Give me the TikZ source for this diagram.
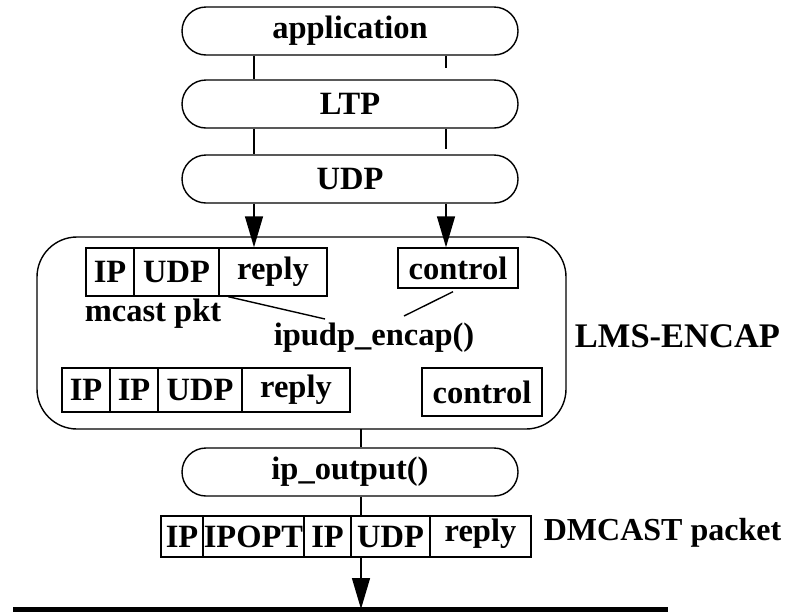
\documentclass[tikz,border=0pt]{standalone}
\usepackage{fontspec}
\setmainfont{Liberation Serif}
\usetikzlibrary{arrows.meta}
\begin{document}
\begin{tikzpicture}[x=1pt,y=-1pt,
  every node/.style={font=\fontsize{32.5}{38}\selectfont\bfseries},
  thin line/.style={line width=1.4pt},
  pill/.style={draw, thin line, rounded corners=24pt, minimum width=336pt,
    minimum height=48pt, inner sep=0pt},
  field/.style={draw, thin line, inner sep=0pt},
  label/.style={anchor=base, inner sep=0pt},
  arrow/.style={thin line, -{Triangle[length=31pt,width=18pt]}}]
\useasboundingbox (0,0) rectangle (786,611);

% protocol stack
\node[pill] (app) at (350,31) {application};
\node[pill] (ltp) at (350,104) {LTP};
\node[pill] (udp) at (350,179) {UDP};
\coordinate (lx) at (254,0);
\coordinate (rx) at (446,0);

% LMS-ENCAP module
\draw[thin line, rounded corners=40pt] (37,237) rectangle (566,429);
\coordinate (lmsS) at (361,429);

% multicast packet
\begin{scope}[every node/.append style={field, minimum height=48pt}]
  \node[minimum width=48pt] (m1) at (110,272) {IP};
  \node[minimum width=85pt] (m2) at (176.5,272) {UDP};
  \node[minimum width=108pt] (m3) at (273,272) {reply};
\end{scope}
\node[field, minimum width=120pt, minimum height=40pt] (c1) at (458,268) {control};
\node[label] (mc) at (153,321) {mcast pkt};
\node[label] (enc) at (374,345) {ipudp\_encap()};

% encapsulated packet
\begin{scope}[every node/.append style={field, minimum height=44pt}]
  \node[minimum width=48pt] (e1) at (86,390) {IP};
  \node[minimum width=48pt] (e2) at (134,390) {IP};
  \node[minimum width=84pt] (e3) at (200,390) {UDP};
  \node[minimum width=108pt] (e4) at (296,390) {reply};
\end{scope}
\node[field, minimum width=120pt, minimum height=48pt] (c2) at (482,392) {control};
\node[label, font=\fontsize{34.5}{40}\selectfont\bfseries] (lms) at (677.5,347) {LMS-ENCAP};

% output routine and resulting packet
\node[pill] (ipo) at (350,472) {ip\_output()};
\begin{scope}[every node/.append style={field, minimum height=41pt}]
  \node[minimum width=42pt] (d1) at (182,536.5) {IP};
  \node[minimum width=101pt] (d2) at (253.5,536.5) {IPOPT};
  \node[minimum width=47pt] (d3) at (327.5,536.5) {IP};
  \node[minimum width=79pt] (d4) at (390.5,536.5) {UDP};
  \node[minimum width=101pt, text depth=12pt] (d5) at (480.5,536.5) {reply};
\end{scope}
\node[label, font=\fontsize{32}{38}\selectfont\bfseries] (dm) at (662.5,540) {DMCAST packet};

% network wire
\coordinate (wl) at (13,609);
\coordinate (wr) at (668,609);
\draw[line width=5pt] (wl) -- (wr);

% stack connectors
\draw[thin line] (app.south -| lx) -- (ltp.north -| lx);
\draw[thin line] (ltp.south -| lx) -- (udp.north -| lx);
\draw[thin line] (app.south -| rx) -- ++(0,12);
\draw[thin line] (ltp.south -| rx) -- ++(0,20);
\draw[arrow] (udp.south -| lx) -- (m3.north -| lx);
\draw[arrow] (udp.south -| rx) -- (c1.north -| rx);

% encapsulation links
\draw[thin line] ([xshift=10pt]m3.south west) -- (325,319);
\draw[thin line] ([xshift=-5pt,yshift=-3pt]c1.south) -- (404,316);

% output path
\draw[thin line] (lmsS) -- (ipo.north -| lmsS);
\draw[thin line] (ipo.south -| lmsS) -- (d4.north -| lmsS);
\draw[arrow] (d4.south -| lmsS) -- (wl -| lmsS);
\end{tikzpicture}
\end{document}
